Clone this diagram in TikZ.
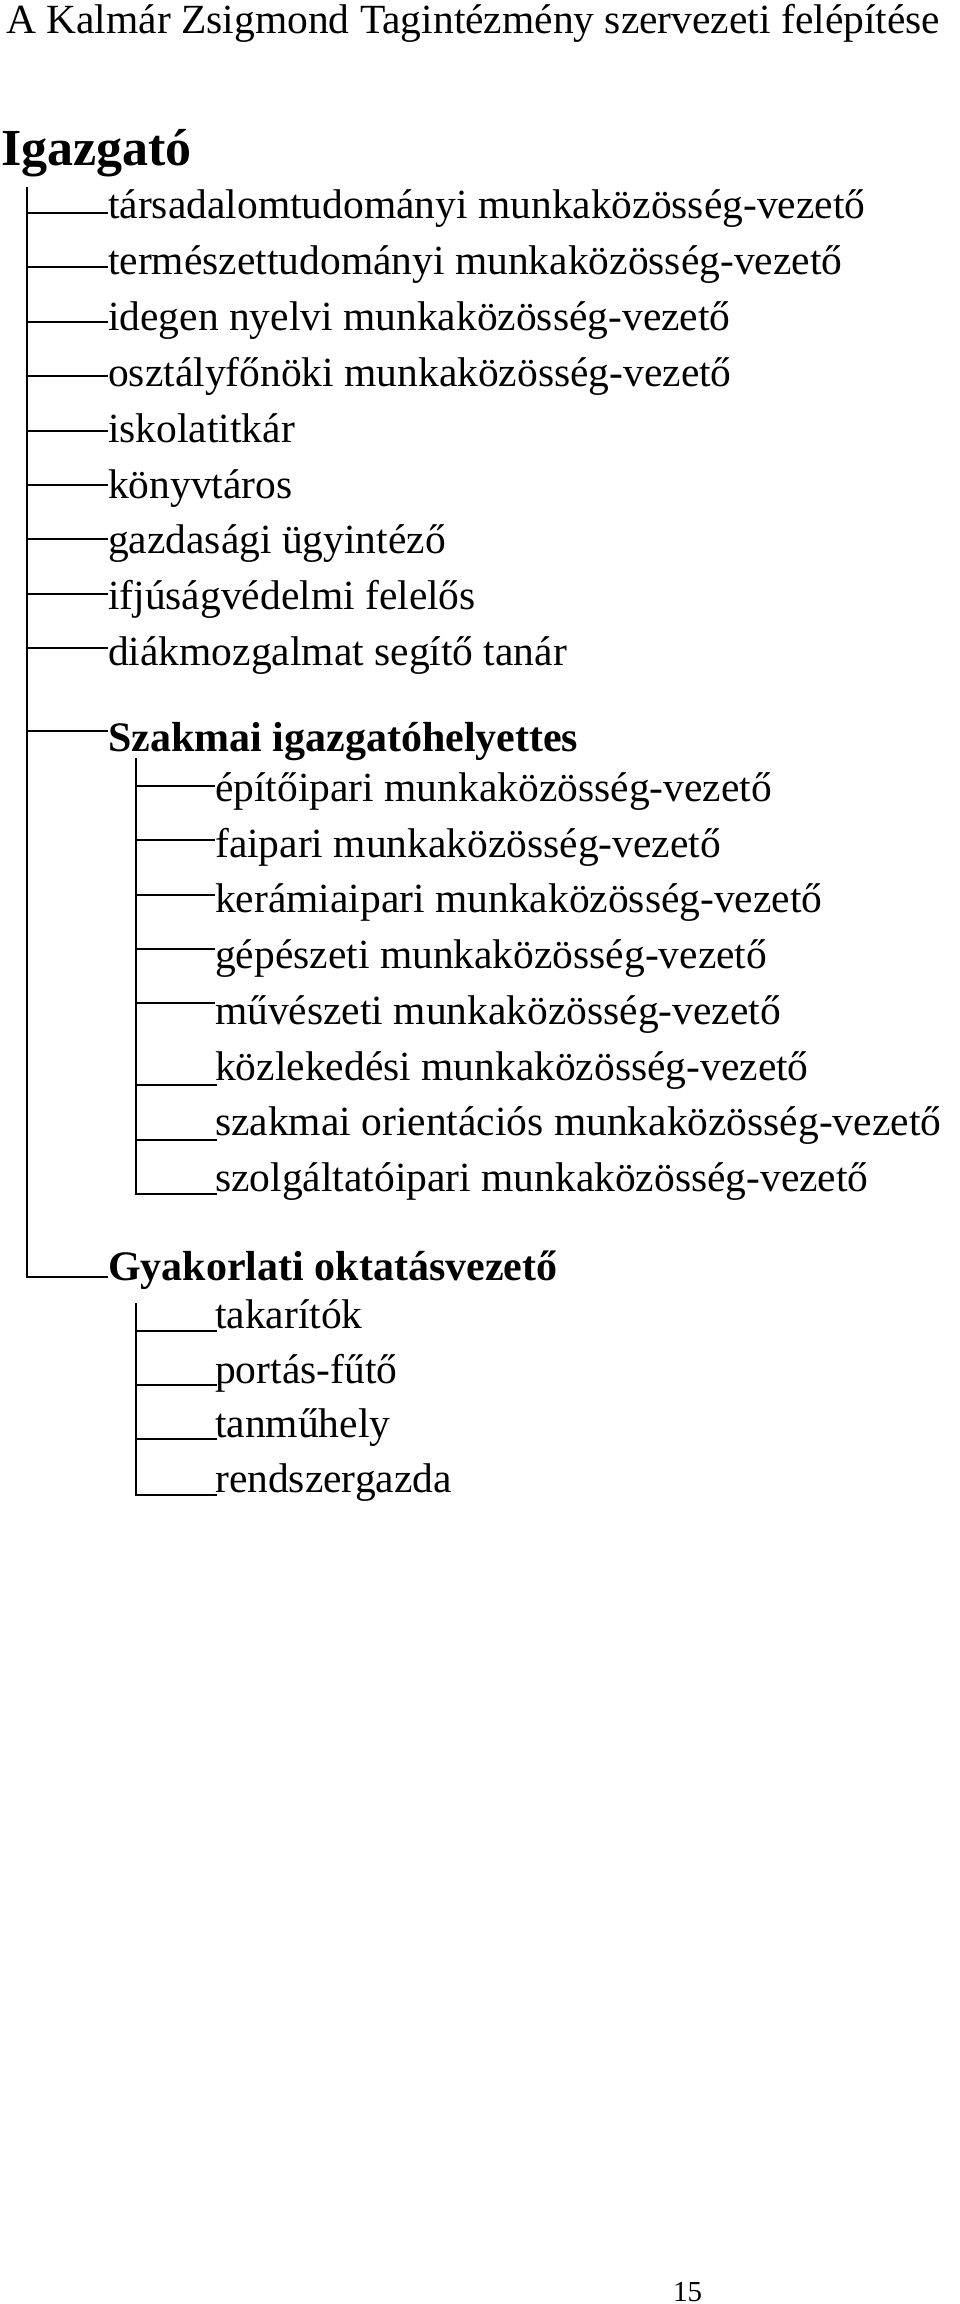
\documentclass[tikz,border=0pt]{standalone}
\usepackage{fontspec}
\setmainfont{Liberation Serif}

\begin{document}
\begin{tikzpicture}[
    x=1pt, y=-1pt, % page pixels, measured downwards
    every node/.style={inner sep=0pt, anchor=base west},
    titletext/.style={font=\fontsize{41.5}{48}\selectfont},
    headtext/.style={font=\fontsize{52}{60}\selectfont\bfseries},
    subhead/.style={font=\fontsize{42}{50}\selectfont\bfseries},
    itemtext/.style={font=\fontsize{41.5}{50}\selectfont},
    pagenum/.style={font=\fontsize{29}{34}\selectfont},
    trunkline/.style={line width=2.4pt},
    branch/.style={line width=2.1pt}
]
\useasboundingbox (0,0) rectangle (960,2304);

% Title
\node[titletext] (title) at (6,34) {A Kalmár Zsigmond Tagintézmény szervezeti felépítése};

% Director
\node[headtext] (director) at (1,165) {Igazgató};
\coordinate (trunkA) at (27,187);

% Directly under the director
\node[itemtext] (tarsad) at (108,218) {társadalomtudományi munkaközösség-vezető};
\node[itemtext] (termesz) at (108,274) {természettudományi munkaközösség-vezető};
\node[itemtext] (idegen) at (108,330) {idegen nyelvi munkaközösség-vezető};
\node[itemtext] (osztaly) at (108,386) {osztályfőnöki munkaközösség-vezető};
\node[itemtext] (titkar) at (108,442) {iskolatitkár};
\node[itemtext] (konyvtar) at (108,498) {könyvtáros};
\node[itemtext] (gazdasag) at (108,553) {gazdasági ügyintéző};
\node[itemtext] (ifjusag) at (108,609) {ifjúságvédelmi felelős};
\node[itemtext] (diak) at (108,665) {diákmozgalmat segítő tanár};

% Deputy for vocational training
\node[subhead] (szakmai) at (108,751) {Szakmai igazgatóhelyettes};
\coordinate (trunkB) at (136,758);
\node[itemtext] (epito) at (215,801) {építőipari munkaközösség-vezető};
\node[itemtext] (fa) at (215,857) {faipari munkaközösség-vezető};
\node[itemtext] (keramia) at (215,912) {kerámiaipari munkaközösség-vezető};
\node[itemtext] (gepesz) at (215,968) {gépészeti munkaközösség-vezető};
\node[itemtext] (muvesz) at (215,1024) {művészeti munkaközösség-vezető};
\node[itemtext] (kozlek) at (215,1080) {közlekedési munkaközösség-vezető};
\node[itemtext] (orient) at (215,1135) {szakmai orientációs munkaközösség-vezető};
\node[itemtext] (szolg) at (215,1191) {szolgáltatóipari munkaközösség-vezető};

% Head of practical training
\node[subhead] (gyak) at (108,1280) {Gyakorlati oktatásvezető};
\coordinate (trunkC) at (136,1303);
\node[itemtext] (takarito) at (215,1328) {takarítók};
\node[itemtext] (portas) at (215,1383) {portás-fűtő};
\node[itemtext] (tanmuhely) at (215,1437) {tanműhely};
\node[itemtext] (rendsz) at (215,1492) {rendszergazda};

% Page number
\node[pagenum] (page) at (673,2301) {15};

% Main trunk
\draw[trunkline] (trunkA) |- (gyak.west |- 0,1277);
\draw[branch] (trunkA |- 0,213) -- (tarsad.west |- 0,213);
\draw[branch] (trunkA |- 0,267) -- (termesz.west |- 0,267);
\draw[branch] (trunkA |- 0,322) -- (idegen.west |- 0,322);
\draw[branch] (trunkA |- 0,376) -- (osztaly.west |- 0,376);
\draw[branch] (trunkA |- 0,431) -- (titkar.west |- 0,431);
\draw[branch] (trunkA |- 0,485) -- (konyvtar.west |- 0,485);
\draw[branch] (trunkA |- 0,539) -- (gazdasag.west |- 0,539);
\draw[branch] (trunkA |- 0,594) -- (ifjusag.west |- 0,594);
\draw[branch] (trunkA |- 0,648) -- (diak.west |- 0,648);
\draw[branch] (trunkA |- 0,731) -- (szakmai.west |- 0,731);

% Vocational sub-tree
\draw[trunkline] (trunkB) |- ([xshift=2pt]szolg.west |- 0,1194);
\draw[branch] (trunkB |- 0,786) -- (epito.west |- 0,786);
\draw[branch] (trunkB |- 0,840) -- (fa.west |- 0,840);
\draw[branch] (trunkB |- 0,895) -- (keramia.west |- 0,895);
\draw[branch] (trunkB |- 0,949) -- (gepesz.west |- 0,949);
\draw[branch] (trunkB |- 0,1003) -- (muvesz.west |- 0,1003);
\draw[branch] (trunkB |- 0,1085) -- ([xshift=2pt]kozlek.west |- 0,1085);
\draw[branch] (trunkB |- 0,1140) -- ([xshift=2pt]orient.west |- 0,1140);

% Practical training sub-tree
\draw[trunkline] (trunkC) |- ([xshift=2pt]rendsz.west |- 0,1495);
\draw[branch] (trunkC |- 0,1331) -- ([xshift=2pt]takarito.west |- 0,1331);
\draw[branch] (trunkC |- 0,1385) -- ([xshift=2pt]portas.west |- 0,1385);
\draw[branch] (trunkC |- 0,1439) -- ([xshift=2pt]tanmuhely.west |- 0,1439);

\end{tikzpicture}
\end{document}
